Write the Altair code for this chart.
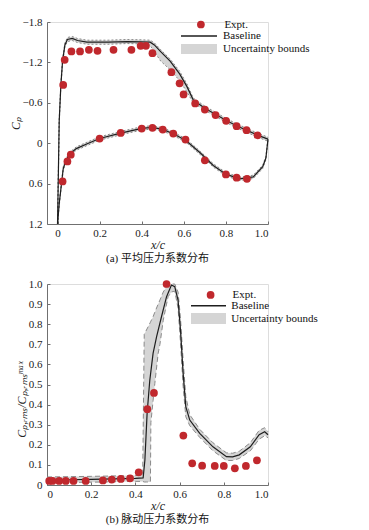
import altair as alt
import pandas as pd

# ---------------- data (a) mean pressure coefficient ----------------
xa_up = [0.000, 0.004, 0.008, 0.016, 0.024, 0.035, 0.047, 0.070, 0.095, 0.140, 0.240, 0.330, 0.400,
         0.440, 0.460, 0.490, 0.535, 0.580, 0.615, 0.645, 0.700, 0.750, 0.800, 0.850, 0.900, 0.950, 1.000]
cpa_up = [1.20, 0.45, -0.33, -0.87, -1.22, -1.46, -1.54, -1.555, -1.525, -1.50, -1.50, -1.51, -1.505,
          -1.50, -1.46, -1.36, -1.22, -1.03, -0.84, -0.64, -0.52, -0.43, -0.34, -0.26, -0.19, -0.12, -0.06]
bnda_up_min = [1.20, 0.42, -0.36, -0.90, -1.25, -1.49, -1.57, -1.585, -1.555, -1.53, -1.53, -1.54, -1.535,
               -1.53, -1.49, -1.39, -1.25, -1.07, -0.88, -0.67, -0.55, -0.46, -0.37, -0.29, -0.22, -0.15, -0.09]
bnda_up_max = [1.20, 0.48, -0.30, -0.84, -1.19, -1.43, -1.51, -1.525, -1.495, -1.47, -1.47, -1.48, -1.475,
               -1.45, -1.36, -1.22, -1.09, -0.93, -0.76, -0.60, -0.49, -0.40, -0.31, -0.23, -0.16, -0.09, -0.03]

xa_lo = [0.000, 0.008, 0.016, 0.027, 0.039, 0.058, 0.089, 0.144, 0.200, 0.300, 0.400, 0.450, 0.500,
         0.550, 0.610, 0.680, 0.740, 0.800, 0.865, 0.930, 0.975, 0.990, 1.000]
cpa_lo = [1.20, 0.90, 0.68, 0.38, 0.26, 0.16, 0.08, 0.005, -0.07, -0.15, -0.22, -0.235, -0.205,
          -0.14, -0.04, 0.15, 0.33, 0.46, 0.53, 0.50, 0.35, 0.22, -0.06]
bnda_lo_min = [1.20, 0.87, 0.65, 0.35, 0.235, 0.135, 0.055, -0.02, -0.095, -0.175, -0.245, -0.26, -0.23,
               -0.165, -0.065, 0.125, 0.305, 0.435, 0.505, 0.475, 0.325, 0.195, -0.085]
bnda_lo_max = [1.20, 0.93, 0.71, 0.41, 0.285, 0.185, 0.105, 0.03, -0.045, -0.125, -0.195, -0.21, -0.18,
               -0.115, -0.015, 0.175, 0.355, 0.485, 0.555, 0.525, 0.375, 0.245, -0.035]

xe_up = [0.027, 0.034, 0.066, 0.107, 0.149, 0.190, 0.266, 0.351, 0.395, 0.420, 0.451, 0.541, 0.580,
         0.599, 0.654, 0.700, 0.751, 0.801, 0.851, 0.898, 0.950]
ye_up = [-0.865, -1.238, -1.362, -1.362, -1.387, -1.372, -1.387, -1.387, -1.447, -1.447, -1.337, -1.054,
         -0.890, -0.725, -0.591, -0.500, -0.417, -0.332, -0.253, -0.193, -0.118]
xe_lo = [0.024, 0.047, 0.063, 0.200, 0.300, 0.400, 0.451, 0.500, 0.550, 0.608, 0.700, 0.800, 0.851, 0.900]
ye_lo = [0.568, 0.270, 0.170, -0.069, -0.153, -0.218, -0.228, -0.203, -0.143, -0.054, 0.255, 0.464, 0.513, 0.528]

# ---------------- data (b) fluctuating pressure coefficient ----------------
xb = [0.000, 0.100, 0.200, 0.300, 0.400, 0.435, 0.443, 0.453, 0.465, 0.480, 0.496, 0.518, 0.541, 0.563,
      0.578, 0.593, 0.604, 0.616, 0.628, 0.646, 0.691, 0.751, 0.812, 0.840, 0.870, 0.920, 0.960, 0.985, 1.000]
rb = [0.025, 0.026, 0.028, 0.030, 0.033, 0.035, 0.124, 0.357, 0.520, 0.655, 0.738, 0.837, 0.937, 0.995,
      0.987, 0.920, 0.771, 0.556, 0.390, 0.323, 0.257, 0.190, 0.141, 0.140, 0.150, 0.190, 0.250, 0.265, 0.250]

xb_band = [0.000, 0.200, 0.400, 0.433, 0.440, 0.450, 0.468, 0.470, 0.480, 0.488, 0.503, 0.511, 0.526, 0.541,
           0.548, 0.563, 0.578, 0.593, 0.604, 0.616, 0.628, 0.646, 0.691, 0.751, 0.812, 0.840, 0.870, 0.920,
           0.960, 0.985, 1.000]
bndb_hi = [0.040, 0.043, 0.047, 0.050, 0.750, 0.771, 0.810, 0.815, 0.837, 0.860, 0.900, 0.920, 0.960, 0.987,
           0.995, 1.000, 1.000, 0.960, 0.830, 0.620, 0.440, 0.350, 0.277, 0.210, 0.160, 0.158, 0.168, 0.210,
           0.272, 0.285, 0.265]
bndb_lo = [0.012, 0.014, 0.018, 0.018, 0.015, 0.015, 0.015, 0.310, 0.420, 0.506, 0.655, 0.700, 0.820, 0.900,
           0.937, 0.960, 0.965, 0.880, 0.710, 0.490, 0.340, 0.295, 0.237, 0.170, 0.122, 0.122, 0.132, 0.170,
           0.228, 0.245, 0.235]

xe_b = [0.010, 0.025, 0.055, 0.085, 0.120, 0.175, 0.253, 0.293, 0.334, 0.376, 0.415, 0.454, 0.484, 0.541,
        0.617, 0.657, 0.702, 0.759, 0.800, 0.850, 0.900, 0.950]
ye_b = [0.020, 0.020, 0.020, 0.020, 0.020, 0.020, 0.023, 0.027, 0.030, 0.033, 0.063, 0.377, 0.458, 1.000,
        0.246, 0.108, 0.096, 0.095, 0.095, 0.083, 0.095, 0.123]

ticks_x = [0, 0.2, 0.4, 0.6, 0.8, 1.0]
ticks_ya = [-1.8, -1.2, -0.6, 0, 0.6, 1.2]
ticks_yb = [0, 0.1, 0.2, 0.3, 0.4, 0.5, 0.6, 0.7, 0.8, 0.9, 1.0]

caption_a = "(a) 平均压力系数分布"
caption_b = "(b) 脉动压力系数分布"
ytitle_a = "Cₚ"
ytitle_b = "Cₚ,ᵣₘₛ/Cₚ,ᵣₘₛᵐᵃˣ"
lab_expt, lab_base, lab_unc = "Expt.", "Baseline", "Uncertainty bounds"

SERIF = "Liberation Serif"
CAPFONT = "Liberation Serif, Noto Sans CJK SC"
RED = "#c0282d"
LABEL_EXPR = "datum.value == 0 ? '0' : format(datum.value, '.1f')"


def panel(W, H, xdom, ydom, rev, yticks, ytitle, ytitleY, caption,
          lines, bands, expt, dash, leg):
    xs = alt.Scale(domain=xdom, nice=False, zero=False)
    ys = alt.Scale(domain=ydom, nice=False, zero=False, reverse=rev)
    xaxis = alt.Axis(orient="bottom", values=ticks_x, labelExpr=LABEL_EXPR, ticks=False, tickSize=0,
                     grid=False, domainColor="#707070", labelFont=SERIF, labelFontSize=11,
                     labelColor="#222", labelPadding=3, title="x/c", titleFont=SERIF,
                     titleFontStyle="italic", titleFontWeight="normal", titleFontSize=12,
                     titleColor="#222", titlePadding=1)
    yaxis = alt.Axis(orient="left", values=yticks, labelExpr=LABEL_EXPR, ticks=False, tickSize=0,
                     grid=False, domainColor="#707070", labelFont=SERIF, labelFontSize=11,
                     labelColor="#222", labelPadding=5, title=ytitle, titleFont=SERIF,
                     titleFontStyle="italic", titleFontWeight="normal", titleFontSize=12,
                     titleColor="#222", titlePadding=0, titleY=ytitleY)

    def X(f):
        return alt.X(f, type="quantitative", scale=xs, axis=xaxis)

    def Y(f):
        return alt.Y(f, type="quantitative", scale=ys, axis=yaxis)

    # build tables
    line_rows, band_rows, bound_rows = [], [], []
    for name, xx, yy in lines:
        for a, b in zip(xx, yy):
            line_rows.append({"x": a, "v": b, "s": name, "k": lab_base})
    for name, xx, lo, hi in bands:
        for a, l, h in zip(xx, lo, hi):
            band_rows.append({"x": a, "lo": l, "hi": h, "s": name, "k": lab_unc})
            bound_rows.append({"x": a, "v": l, "g": name + "_lo"})
            bound_rows.append({"x": a, "v": h, "g": name + "_hi"})
    exp_rows = []
    for xx, yy in expt:
        for a, b in zip(xx, yy):
            exp_rows.append({"x": a, "v": b, "k": lab_expt})
    dl, db, dbo, de = (pd.DataFrame(r) for r in (line_rows, band_rows, bound_rows, exp_rows))

    common_leg = dict(orient="none", title=None, labelFont=SERIF, labelFontSize=11,
                      labelColor="#111", padding=0)

    area = alt.Chart(db).mark_area(color="#d5d5d5").encode(
        x=X("x"), y=Y("lo"), y2="hi", detail="s:N",
        opacity=alt.Opacity("k:N", scale=alt.Scale(range=[1]),
                            legend=alt.Legend(symbolType="M-1,-%.3fH1V%.3fH-1Z" % (leg["bh"], leg["bh"]),
                                              symbolSize=leg["sw"] ** 2, symbolFillColor="#d5d5d5",
                                              symbolStrokeColor="#808080", symbolStrokeWidth=1.2,
                                              symbolDash=[5, 3], symbolOpacity=1,
                                              labelOffset=leg["lo2"], legendX=leg["bx"], legendY=leg["by"],
                                              **common_leg)))
    bounds = alt.Chart(dbo).mark_line(color="#8a8a8a", strokeWidth=1, strokeDash=dash).encode(
        x=X("x"), y=Y("v"), detail="g:N")
    base = alt.Chart(dl).mark_line(strokeWidth=1.2).encode(
        x=X("x"), y=Y("v"), detail="s:N",
        stroke=alt.Stroke("k:N", scale=alt.Scale(range=["#1e1e1e"]),
                          legend=alt.Legend(symbolType="stroke", symbolSize=leg["sw"] ** 2,
                                            symbolStrokeWidth=1.4, labelOffset=leg["lo2"],
                                            legendX=leg["lx"], legendY=leg["ly"], **common_leg)))
    pts = alt.Chart(de).mark_circle(size=60, opacity=1).encode(
        x=X("x"), y=Y("v"),
        fill=alt.Fill("k:N", scale=alt.Scale(range=[RED]),
                      legend=alt.Legend(symbolType="circle", symbolSize=60, symbolStrokeWidth=0,
                                        symbolFillColor=RED, symbolOpacity=1, labelOffset=leg["lo1"],
                                        legendX=leg["px"], legendY=leg["py"], **common_leg)))
    inner = alt.layer(area, bounds, base, pts)

    tick_layer = alt.Chart(dl).mark_line(opacity=0).encode(
        x=alt.X("x", type="quantitative", scale=xs,
                axis=alt.Axis(orient="top", values=ticks_x, labels=False, domain=False, ticks=True,
                              tickSize=3, tickColor="#707070", grid=False, title=None, offset=-H)),
        y=alt.Y("v", type="quantitative", scale=ys,
                axis=alt.Axis(orient="right", values=yticks, labels=False, domain=False, ticks=True,
                              tickSize=3, tickColor="#707070", grid=False, title=None, offset=-W)),
        detail="s:N")

    return alt.layer(inner, tick_layer).resolve_axis(x="independent", y="independent").properties(
        width=W, height=H,
        title=alt.TitleParams(caption, orient="bottom", anchor="middle", font=CAPFONT, fontSize=11,
                              fontWeight="normal", color="#111", offset=3))


leg_a = dict(px=148.4, py=-3.0, lo1=18, lx=133, ly=-5.0, bx=133, by=8, sw=36, bh=0.278, lo2=5)
leg_b = dict(px=158.1, py=5.4, lo1=16.5, lx=143, ly=3.2, bx=143, by=16, sw=35, bh=0.314, lo2=4.3)

chart_a = panel(221, 202, [-0.05, 1.0], [-1.8, 1.2], True, ticks_ya, ytitle_a, 101, caption_a,
                [("up", xa_up, cpa_up), ("lo", xa_lo, cpa_lo)],
                [("up", xa_up, bnda_up_min, bnda_up_max), ("lo", xa_lo, bnda_lo_min, bnda_lo_max)],
                [(xe_up, ye_up), (xe_lo, ye_lo)], [2, 2], leg_a)

chart_b = panel(221, 201, [0, 1.0], [0, 1.0], False, ticks_yb, ytitle_b, 115, caption_b,
                [("b", xb, rb)],
                [("b", xb_band, bndb_lo, bndb_hi)],
                [(xe_b, ye_b)], [5, 3], leg_b)

chart = alt.vconcat(chart_a, chart_b, spacing=12).resolve_scale(
    fill="independent", stroke="independent", opacity="independent"
).resolve_legend(fill="independent", stroke="independent", opacity="independent").properties(
    padding={"left": 0, "top": 7, "right": 5, "bottom": 0}
).configure_view(stroke=None).configure(background="white")

chart.save("out.html", embed_options={"renderer": "svg", "actions": False})
